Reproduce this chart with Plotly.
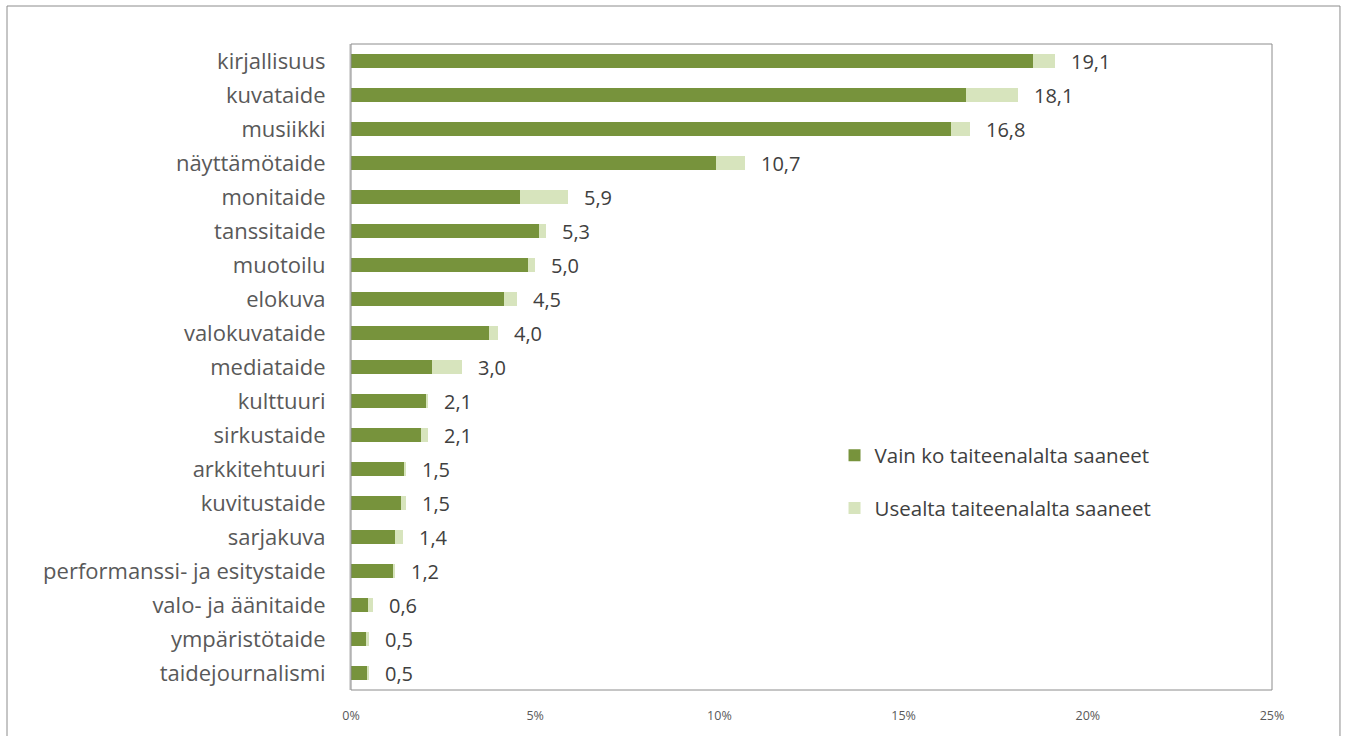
import plotly.graph_objects as go

categories = ["kirjallisuus", "kuvataide", "musiikki", "näyttämötaide", "monitaide",
              "tanssitaide", "muotoilu", "elokuva", "valokuvataide", "mediataide",
              "kulttuuri", "sirkustaide", "arkkitehtuuri", "kuvitustaide", "sarjakuva",
              "performanssi- ja esitystaide", "valo- ja äänitaide", "ympäristötaide",
              "taidejournalismi"]
totals = [19.1, 18.1, 16.8, 10.7, 5.9, 5.3, 5.0, 4.5, 4.0, 3.0,
          2.1, 2.1, 1.5, 1.5, 1.4, 1.2, 0.6, 0.5, 0.5]
vain = [18.5, 16.7, 16.3, 9.9, 4.6, 5.1, 4.8, 4.15, 3.75, 2.2,
        2.05, 1.9, 1.45, 1.35, 1.2, 1.15, 0.45, 0.4, 0.45]
usealta = [round(t - v, 2) for t, v in zip(totals, vain)]
total_labels = [f"{t:.1f}".replace(".", ",") for t in totals]
x_ticks = [0, 5, 10, 15, 20, 25]
x_ticktext = [f"{t}%" for t in x_ticks]

DARK = "#77933c"
LIGHT = "#d7e4bd"
TXT = "#404040"
CAT = "#595959"
FONT = "Open Sans"

fig = go.Figure()
fig.add_trace(go.Bar(y=categories, x=vain, orientation="h", name="Vain ko taiteenalalta saaneet",
                     marker=dict(color=DARK, line=dict(width=0)), legendgroup="a"))
fig.add_trace(go.Bar(y=categories, x=usealta, orientation="h", name="Usealta taiteenalalta saaneet",
                     marker=dict(color=LIGHT, line=dict(width=0)), legendgroup="b"))

for c, t, lab in zip(categories, totals, total_labels):
    fig.add_annotation(x=t, y=c, text=lab, showarrow=False, xanchor="left", xshift=14,
                       font=dict(family=FONT, size=20, color=TXT))

# plot frame
fig.add_shape(type="rect", xref="paper", yref="paper", x0=0, x1=1, y0=0, y1=1,
              line=dict(color="#8c8c8c", width=1), layer="above")
# outer border
fig.add_shape(type="rect", xref="paper", yref="paper", x0=-0.3735, x1=1.0738, y0=-0.2, y1=1.0588,
              line=dict(color="#8c8c8c", width=1))

fig.update_layout(
    width=1346, height=736,
    margin=dict(l=351, r=74, t=44, b=46, autoexpand=False),
    barmode="stack", bargap=0.59,
    plot_bgcolor="white", paper_bgcolor="white",
    font=dict(family=FONT, color=TXT),
    legend=dict(x=0.525, y=0.394, xanchor="left", yanchor="top", traceorder="grouped",
                tracegroupgap=23, font=dict(family=FONT, size=20.5, color=TXT),
                bgcolor="rgba(0,0,0,0)"),
    xaxis=dict(range=[0, 25], tickvals=x_ticks, ticktext=x_ticktext, showgrid=False,
               zeroline=False, showline=False, ticks="", ticklabelstandoff=16,
               tickfont=dict(family=FONT, size=12.5, color=CAT), fixedrange=True),
    yaxis=dict(categoryorder="array", categoryarray=categories, autorange="reversed",
               showgrid=False, zeroline=False, showline=True, linecolor="#d9d9d9", linewidth=2,
               ticks="", ticklabelstandoff=19,
               tickfont=dict(family=FONT, size=22, color=CAT), fixedrange=True),
)

fig.write_html("out.html", config={"displayModeBar": False},
               post_script="document.body.style.margin='0';")
